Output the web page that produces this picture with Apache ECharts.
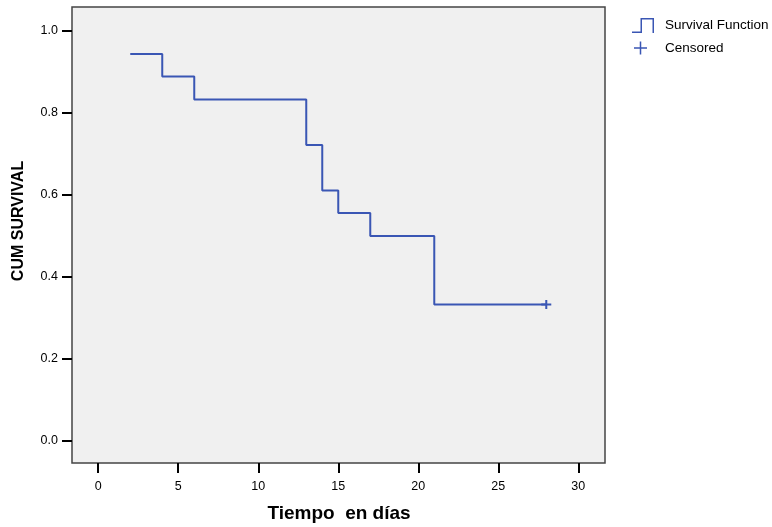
<!DOCTYPE html>
<html>
<head>
<meta charset="utf-8">
<script src="https://cdn.jsdelivr.net/npm/echarts@6/dist/echarts.min.js"></script>
<style>
  html, body { margin: 0; padding: 0; background: #fff; }
  #main { width: 772px; height: 527px; }
</style>
</head>
<body>
<div id="main"></div>
<script>
// tiempos de evento y supervivencia acumulada (Kaplan-Meier)
var eventTimes = [2, 4, 6, 13, 14, 15, 17, 21, 28];
var survival = [0.944, 0.889, 0.833, 0.722, 0.611, 0.556, 0.5, 0.333, 0.333];
// caso censurado
var censoredTimes = [28];
var censoredSurv = [0.333];
// marcas de los ejes
var xTicks = [0, 5, 10, 15, 20, 25, 30];
var yTicks = [0, 0.2, 0.4, 0.6, 0.8, 1.0];

var blue = '#3a56b4';
var stepIcon = 'path://M0,13.5 H8.5 V0 H22 V15 H20.5 V1.5 H10 V15 H0 Z';
var plusIcon = 'path://M5.75,0 H7.25 V5.75 H13 V7.25 H7.25 V13 H5.75 V7.25 H0 V5.75 H5.75 Z';
var plusMark = 'path://M4,0 H6 V3.5 H10 V5.5 H6 V9 H4 V5.5 H0 V3.5 H4 Z';

var lineData = eventTimes.map(function (t, i) { return [t, survival[i]]; });
var censData = censoredTimes.map(function (t, i) { return [t, censoredSurv[i]]; });

var chart = echarts.init(document.getElementById('main'));
var font = 'Liberation Sans, Arial, sans-serif';

chart.setOption({
    animation: false,
    textStyle: { fontFamily: font },
    grid: {
        left: 72, top: 7, width: 533, height: 456,
        show: true, backgroundColor: '#f0f0f0',
        borderColor: '#444', borderWidth: 1.5
    },
    legend: [
        {
            data: [{ name: 'Survival Function', icon: stepIcon }],
            left: 632, top: 18, padding: 0,
            itemWidth: 22, itemHeight: 15,
            textStyle: { fontSize: 13.5, color: '#000', padding: [0, 0, 0, 6], fontFamily: font },
            selectedMode: false
        },
        {
            data: [{ name: 'Censored', icon: plusIcon }],
            left: 634, top: 41, padding: 0,
            itemWidth: 13, itemHeight: 13,
            textStyle: { fontSize: 13.5, color: '#000', padding: [0, 0, 0, 13], fontFamily: font },
            selectedMode: false
        }
    ],
    xAxis: {
        type: 'value',
        min: -1.64, max: 31.67,
        splitLine: { show: false },
        axisLine: { show: false, onZero: false },
        axisTick: { show: true, customValues: xTicks, length: 10, lineStyle: { color: '#000', width: 2 } },
        axisLabel: { customValues: xTicks, margin: 17, fontSize: 12.5, color: '#000', fontFamily: font }
    },
    yAxis: {
        type: 'value',
        min: -0.0537, max: 1.0585,
        splitLine: { show: false },
        axisLine: { show: false, onZero: false },
        axisTick: { show: true, customValues: yTicks, length: 10, lineStyle: { color: '#000', width: 2 } },
        axisLabel: {
            customValues: yTicks, margin: 14, fontSize: 12.5, color: '#000', fontFamily: font,
            formatter: function (v) { return v.toFixed(1); }
        }
    },
    graphic: [
        {
            type: 'text', x: 339, y: 514,
            style: { text: 'Tiempo  en días', font: 'bold 19px ' + font, fill: '#000', align: 'center', verticalAlign: 'middle' }
        },
        {
            type: 'text', x: 19, y: 221, rotation: Math.PI / 2,
            style: { text: 'CUM SURVIVAL', font: 'bold 16px ' + font, fill: '#000', align: 'center', verticalAlign: 'middle' }
        }
    ],
    series: [
        {
            name: 'Survival Function',
            type: 'line',
            step: 'end',
            data: lineData,
            symbol: 'none',
            lineStyle: { color: blue, width: 2 },
            itemStyle: { color: blue }
        },
        {
            name: 'Censored',
            type: 'scatter',
            data: censData,
            symbol: plusMark,
            symbolSize: [10, 9],
            itemStyle: { color: blue, opacity: 1 },
            z: 5
        }
    ]
});
</script>
</body>
</html>
